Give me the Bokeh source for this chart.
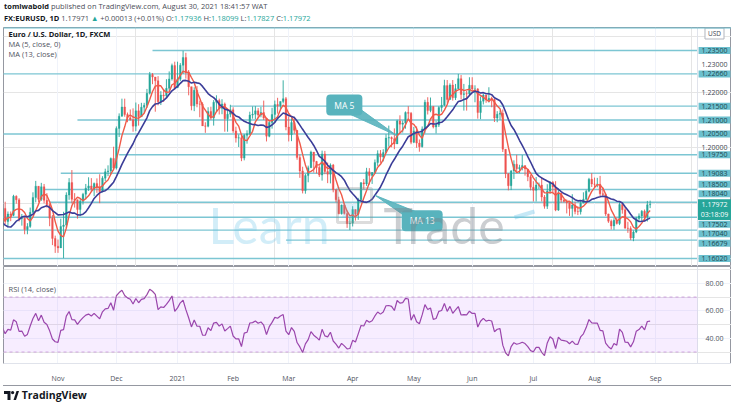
import numpy as np
import pandas as pd
from bokeh.plotting import figure
from bokeh.models import Range1d, Span, BoxAnnotation, Div, FixedTicker, Grid, ColumnDataSource
from bokeh.layouts import column
from bokeh.core.properties import value
from bokeh.embed import file_html
from bokeh.resources import INLINE

FONT = "Open Sans"

# ---------------- data: FX:EURUSD daily (FXCM) ----------------
first_day = "2020-10-01"
last_day = "2021-08-30"
no_bar_days = ["2020-12-25", "2021-01-01"]

# September 2020 closes: only used to warm up the MA / RSI
warmup_close = [1.1911, 1.1855, 1.1850, 1.1837, 1.1817, 1.1780, 1.1800, 1.1813, 1.1845, 1.1864, 1.1846,
                1.1815, 1.1850, 1.1838, 1.1771, 1.1706, 1.1659, 1.1670, 1.1631, 1.1665, 1.1745, 1.1720]

close_oct = [1.1747, 1.1716, 1.1782, 1.1735, 1.1762, 1.1757, 1.1826, 1.1813, 1.1745, 1.1747, 1.1706,
             1.1717, 1.1768, 1.1821, 1.1862, 1.1815, 1.1860, 1.1811, 1.1795, 1.1747, 1.1674, 1.1646]
high_oct = [1.1771, 1.1753, 1.1795, 1.1806, 1.1771, 1.1771, 1.1831, 1.1829, 1.1819, 1.1762, 1.1751,
            1.1729, 1.1785, 1.1840, 1.1881, 1.1860, 1.1874, 1.1870, 1.1837, 1.1800, 1.1758, 1.1684]
low_oct = [1.1708, 1.1696, 1.1715, 1.1725, 1.1714, 1.1736, 1.1754, 1.1799, 1.1735, 1.1720, 1.1689,
           1.1689, 1.1712, 1.1765, 1.1804, 1.1804, 1.1809, 1.1800, 1.1785, 1.1718, 1.1650, 1.1622]

close_nov = [1.1640, 1.1717, 1.1722, 1.1830, 1.1875, 1.1815, 1.1813, 1.1778, 1.1808, 1.1833, 1.1855,
             1.1863, 1.1852, 1.1872, 1.1857, 1.1842, 1.1891, 1.1914, 1.1917, 1.1962, 1.1927]
high_nov = [1.1670, 1.1745, 1.1770, 1.1840, 1.1891, 1.1920, 1.1837, 1.1814, 1.1819, 1.1838, 1.1870,
            1.1894, 1.1891, 1.1875, 1.1890, 1.1905, 1.1898, 1.1925, 1.1937, 1.1965, 1.2004]
low_nov = [1.1622, 1.1640, 1.1603, 1.1711, 1.1813, 1.1800, 1.1785, 1.1745, 1.1754, 1.1796, 1.1815,
           1.1845, 1.1841, 1.1826, 1.1838, 1.1801, 1.1840, 1.1880, 1.1898, 1.1903, 1.1922]

close_dec = [1.2070, 1.2114, 1.2147, 1.2120, 1.2108, 1.2101, 1.2078, 1.2133, 1.2112, 1.2146, 1.2153,
             1.2196, 1.2264, 1.2255, 1.2241, 1.2166, 1.2190, 1.2187, 1.2214, 1.2248, 1.2296, 1.2216]
high_dec = [1.2077, 1.2124, 1.2177, 1.2177, 1.2127, 1.2138, 1.2142, 1.2163, 1.2157, 1.2162, 1.2162,
            1.2212, 1.2273, 1.2269, 1.2255, 1.2258, 1.2204, 1.2212, 1.2247, 1.2275, 1.2303, 1.2310]
low_dec = [1.1922, 1.2039, 1.2112, 1.2112, 1.2092, 1.2098, 1.2058, 1.2060, 1.2080, 1.2111, 1.2126,
           1.2144, 1.2192, 1.2229, 1.2130, 1.2153, 1.2154, 1.2165, 1.2181, 1.2205, 1.2242, 1.2209]

close_jan = [1.2247, 1.2297, 1.2325, 1.2272, 1.2220, 1.2151, 1.2207, 1.2158, 1.2157, 1.2079,
             1.2078, 1.2131, 1.2107, 1.2164, 1.2170, 1.2142, 1.2158, 1.2105, 1.2121, 1.2137]
high_jan = [1.2310, 1.2305, 1.2349, 1.2342, 1.2280, 1.2213, 1.2218, 1.2222, 1.2170, 1.2164,
            1.2092, 1.2146, 1.2148, 1.2172, 1.2189, 1.2177, 1.2175, 1.2163, 1.2138, 1.2155]
low_jan = [1.2227, 1.2240, 1.2266, 1.2249, 1.2189, 1.2135, 1.2132, 1.2146, 1.2110, 1.2079,
           1.2054, 1.2074, 1.2101, 1.2080, 1.2130, 1.2120, 1.2121, 1.2058, 1.2058, 1.2110]

close_feb = [1.2061, 1.2035, 1.2036, 1.1963, 1.2045, 1.2051, 1.2118, 1.2121, 1.2133, 1.2118,
             1.2127, 1.2107, 1.2042, 1.2091, 1.2120, 1.2156, 1.2151, 1.2167, 1.2177, 1.2075]
high_feb = [1.2146, 1.2076, 1.2048, 1.2045, 1.2050, 1.2063, 1.2130, 1.2149, 1.2150, 1.2143,
            1.2147, 1.2170, 1.2108, 1.2100, 1.2144, 1.2170, 1.2180, 1.2167, 1.2243, 1.2183]
low_feb = [1.2054, 1.2019, 1.2003, 1.1952, 1.1955, 1.2015, 1.2046, 1.2105, 1.2103, 1.2108,
           1.2110, 1.2100, 1.2023, 1.2038, 1.2069, 1.2090, 1.2123, 1.2136, 1.2160, 1.2063]

close_mar = [1.2047, 1.2091, 1.2063, 1.1965, 1.1917, 1.1846, 1.1900, 1.1928, 1.1985, 1.1951, 1.1929,
             1.1902, 1.1978, 1.1915, 1.1905, 1.1938, 1.1849, 1.1813, 1.1763, 1.1794, 1.1764, 1.1727, 1.1729]
high_mar = [1.2113, 1.2106, 1.2112, 1.2064, 1.1976, 1.1932, 1.1906, 1.1936, 1.1990, 1.1985, 1.1953,
            1.1937, 1.1990, 1.1989, 1.1947, 1.1944, 1.1942, 1.1852, 1.1824, 1.1796, 1.1800, 1.1774, 1.1750]
low_mar = [1.2023, 1.2024, 1.2051, 1.1957, 1.1892, 1.1836, 1.1835, 1.1876, 1.1928, 1.1911, 1.1908,
           1.1895, 1.1882, 1.1905, 1.1873, 1.1872, 1.1840, 1.1804, 1.1761, 1.1760, 1.1760, 1.1712, 1.1704]

close_apr = [1.1778, 1.1761, 1.1813, 1.1874, 1.1870, 1.1914, 1.1900, 1.1911, 1.1947, 1.1979, 1.1967,
             1.1983, 1.2035, 1.2037, 1.2033, 1.2014, 1.2097, 1.2085, 1.2089, 1.2127, 1.2124, 1.2020]
high_apr = [1.1790, 1.1778, 1.1820, 1.1877, 1.1888, 1.1928, 1.1927, 1.1913, 1.1958, 1.1991, 1.1992,
            1.1995, 1.2049, 1.2080, 1.2041, 1.2070, 1.2101, 1.2117, 1.2098, 1.2131, 1.2150, 1.2129]
low_apr = [1.1717, 1.1738, 1.1741, 1.1810, 1.1851, 1.1863, 1.1868, 1.1870, 1.1907, 1.1935, 1.1946,
           1.1951, 1.1981, 1.2004, 1.2002, 1.1995, 1.2016, 1.2053, 1.2055, 1.2069, 1.2100, 1.2013]

close_may = [1.2061, 1.2017, 1.2004, 1.2068, 1.2164, 1.2134, 1.2149, 1.2075, 1.2082, 1.2145, 1.2153,
             1.2224, 1.2174, 1.2226, 1.2180, 1.2213, 1.2249, 1.2192, 1.2195, 1.2194, 1.2225]
high_may = [1.2075, 1.2077, 1.2030, 1.2077, 1.2173, 1.2182, 1.2181, 1.2150, 1.2098, 1.2150, 1.2183,
            1.2245, 1.2244, 1.2232, 1.2244, 1.2230, 1.2266, 1.2262, 1.2230, 1.2205, 1.2254]
low_may = [1.2017, 1.2000, 1.1986, 1.2001, 1.2052, 1.2120, 1.2128, 1.2070, 1.2052, 1.2075, 1.2130,
           1.2150, 1.2162, 1.2173, 1.2170, 1.2172, 1.2210, 1.2174, 1.2134, 1.2134, 1.2190]

close_jun = [1.2212, 1.2212, 1.2127, 1.2168, 1.2190, 1.2172, 1.2178, 1.2174, 1.2107, 1.2121, 1.2124,
             1.1995, 1.1907, 1.1864, 1.1917, 1.1941, 1.1925, 1.1929, 1.1936, 1.1924, 1.1896, 1.1858]
high_jun = [1.2254, 1.2225, 1.2215, 1.2185, 1.2196, 1.2180, 1.2218, 1.2184, 1.2177, 1.2132, 1.2134,
            1.2138, 1.1993, 1.1909, 1.1920, 1.1955, 1.1975, 1.1939, 1.1974, 1.1935, 1.1920, 1.1903]
low_jun = [1.2205, 1.2164, 1.2105, 1.2103, 1.2156, 1.2162, 1.2163, 1.2146, 1.2093, 1.2092, 1.2101,
           1.1985, 1.1891, 1.1847, 1.1848, 1.1888, 1.1914, 1.1909, 1.1919, 1.1900, 1.1880, 1.1847]

close_jul = [1.1847, 1.1866, 1.1866, 1.1823, 1.1790, 1.1845, 1.1876, 1.1859, 1.1776, 1.1837, 1.1812,
             1.1807, 1.1802, 1.1782, 1.1794, 1.1771, 1.1770, 1.1801, 1.1815, 1.1844, 1.1887, 1.1870]
high_jul = [1.1880, 1.1895, 1.1875, 1.1895, 1.1830, 1.1869, 1.1880, 1.1880, 1.1880, 1.1849, 1.1839,
            1.1816, 1.1814, 1.1804, 1.1833, 1.1806, 1.1790, 1.1810, 1.1840, 1.1849, 1.1892, 1.1909]
low_jul = [1.1807, 1.1807, 1.1852, 1.1807, 1.1781, 1.1780, 1.1834, 1.1838, 1.1772, 1.1773, 1.1803,
           1.1803, 1.1764, 1.1755, 1.1752, 1.1761, 1.1758, 1.1760, 1.1802, 1.1810, 1.1840, 1.1859]

close_aug = [1.1869, 1.1869, 1.1835, 1.1832, 1.1762, 1.1736, 1.1719, 1.1739, 1.1728, 1.1796, 1.1777,
             1.1711, 1.1710, 1.1676, 1.1697, 1.1746, 1.1755, 1.1772, 1.1752, 1.1795, 1.1797]
high_aug = [1.1893, 1.1892, 1.1899, 1.1857, 1.1835, 1.1763, 1.1742, 1.1747, 1.1749, 1.1804, 1.1804,
            1.1787, 1.1734, 1.1718, 1.1703, 1.1752, 1.1764, 1.1776, 1.1778, 1.1809, 1.1810]
low_aug = [1.1858, 1.1858, 1.1826, 1.1823, 1.1755, 1.1730, 1.1706, 1.1705, 1.1724, 1.1722, 1.1763,
           1.1710, 1.1694, 1.1668, 1.1664, 1.1693, 1.1738, 1.1736, 1.1735, 1.1735, 1.1783]

# horizontal levels drawn on the chart and the day each one starts
levels = [1.23500, 1.22660, 1.21500, 1.21000, 1.20500, 1.19750, 1.19083,
          1.18500, 1.18040, 1.17502, 1.17040, 1.16679, 1.16020]
level_start = ["2020-12-18", "2020-10-01", "2021-01-29", "2020-11-11", "2020-10-01", "2020-12-02", "2020-11-03",
               "2020-10-26", "2020-10-28", "2020-10-01", "2020-10-01", "2021-02-26", "2020-10-01"]
price_ticks = [1.23, 1.22, 1.20]
last_price = 1.17972
countdown = "03:18:09"
rsi_ticks = [80, 60, 40]
rsi_band = (30, 70)

month_starts = ["2020-11-02", "2020-12-01", "2021-01-04", "2021-02-01", "2021-03-01", "2021-04-01",
                "2021-05-03", "2021-06-01", "2021-07-01", "2021-08-02", "2021-09-01"]
month_labels = ["Nov", "Dec", "2021", "Feb", "Mar", "Apr", "May", "Jun", "Jul", "Aug", "Sep"]

# callouts: label, MA period, tip date (on the MA line), box date, box price
callout_text = ["MA 5", "MA 13"]
callout_ma = [5, 13]
callout_tip_date = ["2021-04-23", "2021-04-13"]
callout_box_date = ["2021-03-29", "2021-05-06"]
callout_box_price = [1.2154, 1.1738]

header_author = "tomiwabold"
header_rest = "published on TradingView.com, August 30, 2021 18:41:57 WAT"
header_symbol = "FX:EURUSD, 1D"
header_last = "1.17971"
header_change = "+0.00013 (+0.01%)"
header_ohlc = [("O", "1.17936"), ("H", "1.18099"), ("L", "1.17827"), ("C", "1.17972")]

# ---------------- derived series ----------------
closes = np.array(close_oct + close_nov + close_dec + close_jan + close_feb + close_mar +
                  close_apr + close_may + close_jun + close_jul + close_aug)
highs = np.array(high_oct + high_nov + high_dec + high_jan + high_feb + high_mar +
                 high_apr + high_may + high_jun + high_jul + high_aug)
lows = np.array(low_oct + low_nov + low_dec + low_jan + low_feb + low_mar +
                low_apr + low_may + low_jun + low_jul + low_aug)

all_days = [d.strftime("%Y-%m-%d") for d in pd.bdate_range(first_day, "2021-09-30")
            if d.strftime("%Y-%m-%d") not in no_bar_days]
day_idx = {d: i for i, d in enumerate(all_days)}
n_bars = day_idx[last_day] + 1
assert n_bars == len(closes) == len(highs) == len(lows)
xs = np.arange(n_bars)

opens = np.concatenate([[warmup_close[-1]], closes[:-1]])
full = pd.Series(np.concatenate([warmup_close, closes]))
nw = len(warmup_close)
ma = {5: full.rolling(5).mean().to_numpy()[nw:], 13: full.rolling(13).mean().to_numpy()[nw:]}


def rsi_wilder(c, n=14):
    c = np.asarray(c)
    d = np.diff(c)
    up = np.clip(d, 0, None)
    dn = np.clip(-d, 0, None)
    out = np.full(len(c), np.nan)
    au, ad = up[:n].mean(), dn[:n].mean()
    out[n] = 100 - 100 / (1 + au / ad)
    for i in range(n, len(d)):
        au = (au * (n - 1) + up[i]) / n
        ad = (ad * (n - 1) + dn[i]) / n
        out[i + 1] = 100.0 if ad == 0 else 100 - 100 / (1 + au / ad)
    return out


rsi = rsi_wilder(full.to_numpy())[nw:]

# ---------------- view geometry ----------------
W = 728
H_HEAD = 27
H_PRICE = 239
H_RSI = 119
H_FOOT = 20
AXIS_B = 15
X0, X1 = 2.4, 264.27
Y0, Y1 = 1.1573, 1.2433
R0, R1 = 21.7, 92.2
ppx = W / (X1 - X0)
ppy = H_PRICE / (Y1 - Y0)
AXIS_PX = 34
sep = X1 - AXIS_PX / ppx
label_x = X1 - AXIS_PX / 2 / ppx


def fx(px):           # frame pixels from the left -> bar index
    return X0 + px / ppx


def fy(py):           # price-frame pixels from the top -> price
    return Y1 - py / ppy


UP, DOWN = "#26a69a", "#ef5350"
MA5_C, MA13_C = "#f05a48", "#3b3d98"
LEVEL = "#7cc6d3"
LEVEL_BOX = "#6cc0ce"
LABEL_TXT = "#1d4750"
CALLOUT = "#58b3bd"
BORDER = "#9598a1"
TXT = "#50535e"

xr = Range1d(X0, X1)

p = figure(width=W, height=H_PRICE, x_range=xr, y_range=Range1d(Y0, Y1),
           x_axis_location=None, y_axis_location=None, toolbar_location=None,
           output_backend="svg", min_border=0)
p.outline_line_color = BORDER
p.background_fill_color = "white"
p.border_fill_color = "white"
p.add_layout(Grid(dimension=0, ticker=FixedTicker(ticks=[day_idx[d] for d in month_starts]),
                  grid_line_color="#f0f3fa"))
p.add_layout(Span(location=sep, dimension="height", line_color="#e0e3eb", line_width=1))
p.add_layout(Span(location=Y1, dimension="width", line_color="#6fbfcf", line_width=2))

# level lines
p.segment(x0=[day_idx[d] for d in level_start], y0=levels, x1=sep, y1=levels,
          line_color=LEVEL, line_width=1.4)

# candles
up = closes >= opens
body_top = np.maximum(opens, closes)
body_bot = np.minimum(opens, closes)
src = ColumnDataSource(dict(x=xs, top=body_top, bottom=body_bot,
                            hi=np.maximum(highs, body_top), lo=np.minimum(lows, body_bot),
                            color=np.where(up, UP, DOWN)))
p.segment(x0="x", y0="lo", x1="x", y1="hi", line_color="color", line_width=0.9, source=src)
p.vbar(x="x", width=0.62, top="top", bottom="bottom", fill_color="color", line_color="color",
       line_width=0.3, source=src)

# moving averages
p.line(xs, ma[5], line_color=MA5_C, line_width=1.4)
p.line(xs, ma[13], line_color=MA13_C, line_width=1.6)

# callouts
for txt, per, tdate, bdate, bprice in zip(callout_text, callout_ma, callout_tip_date,
                                         callout_box_date, callout_box_price):
    tx = day_idx[tdate]
    ty = ma[per][tx]
    bx = day_idx[bdate]
    by = bprice
    dxp, dyp = (tx - bx) * ppx, (ty - by) * ppy
    L = np.hypot(dxp, dyp)
    nxp, nyp = -dyp / L * 6, dxp / L * 6
    p.patch([bx + nxp / ppx, bx - nxp / ppx, tx], [by + nyp / ppy, by - nyp / ppy, ty],
            fill_color=CALLOUT, line_color=CALLOUT, fill_alpha=0.9, line_alpha=0.9)
    p.text(x=[bx], y=[by], text=[txt], text_align="center", text_baseline="middle",
           text_font=value(FONT), text_font_size="8.5px", text_color="white",
           background_fill_color=CALLOUT, border_radius=4, padding=(8, 5))

# legend texts
p.text(x=[fx(5)], y=[fy(6)], text=["Euro / U.S. Dollar, 1D, FXCM"], text_baseline="middle",
       text_font=value(FONT), text_font_size="7.5px", text_font_style="bold", text_color="#131722")
p.text(x=[fx(5), fx(5)], y=[fy(16), fy(26)], text=["MA (5, close, 0)", "MA (13, close)"],
       text_baseline="middle", text_font=value(FONT), text_font_size="7.5px", text_color=TXT)


# price-scale labels with simple overlap avoidance around the last-price tag
def to_py(v):
    return (Y1 - v) * ppy


cur_py = to_py(last_price)
lab_h = 9
placed = {}
limit = cur_py - 5.5
for lv in sorted([l for l in levels if l >= last_price]):
    c = min(to_py(lv), limit - lab_h / 2 - 0.5)
    placed[lv] = c
    limit = c - lab_h / 2
limit = cur_py + 15
for lv in sorted([l for l in levels if l < last_price], reverse=True):
    c = max(to_py(lv), limit + lab_h / 2 + 0.5)
    placed[lv] = c
    limit = c + lab_h / 2

p.text(x=[label_x] * len(price_ticks), y=price_ticks, text=["%.5f" % t for t in price_ticks],
       text_align="center", text_baseline="middle", text_font=value(FONT), text_font_size="7px",
       text_color="#434651")
p.text(x=[label_x] * len(levels), y=[fy(placed[l]) for l in levels], text=["%.5f" % l for l in levels],
       text_align="center", text_baseline="middle", text_font=value(FONT), text_font_size="7px",
       text_color=LABEL_TXT, background_fill_color=LEVEL_BOX, padding=(3, 1))
p.text(x=[label_x], y=[last_price], text=["%.5f\n%s" % (last_price, countdown)],
       text_align="center", text_baseline="top", y_offset=-5, text_font=value(FONT),
       text_font_size="7px", text_line_height=1.1, text_color="white",
       background_fill_color=UP, padding=(3, 1))
p.text(x=[label_x], y=[fy(6)], text=["USD"], text_align="center", text_baseline="middle",
       text_font=value(FONT), text_font_size="6.5px", text_color="#434651",
       background_fill_color="white", border_line_color="#b2b5be", padding=(3, 1))

# watermark
p.text(x=[fx(205)], y=[fy(197)], text=["Learn"], text_baseline="alphabetic",
       text_font=value("Lato"), text_font_size="50px", text_color="#5cbde6", text_alpha=0.28)
p.rect(x=[fx(351)], y=[fy(178)], width=34, height=34, width_units="screen", height_units="screen",
       fill_color=None, line_color="#8a8a8a", line_alpha=0.3, line_width=3)
p.rect(x=[fx(346)], y=[fy(183)], width=14, height=14, width_units="screen", height_units="screen",
       fill_color="#5cbde6", fill_alpha=0.2, line_color=None)
p.text(x=[fx(380)], y=[fy(197)], text=["Trade"], text_baseline="alphabetic",
       text_font=value("Lato"), text_font_size="50px", text_color="#7a7f87", text_alpha=0.38)
p.segment(x0=[fx(511)], y0=[fy(190)], x1=[fx(531)], y1=[fy(184)], line_color="#5cbde6",
          line_alpha=0.35, line_width=4)

# ---------------- RSI pane ----------------
r = figure(width=W, height=H_RSI, x_range=xr, y_range=Range1d(R0, R1),
           x_axis_location="below", y_axis_location=None, toolbar_location=None,
           output_backend="svg", min_border=0, min_border_bottom=AXIS_B)
r.outline_line_color = BORDER
r.background_fill_color = "white"
r.border_fill_color = "white"
tick_idx = [day_idx[d] for d in month_starts]
r.xaxis.ticker = FixedTicker(ticks=tick_idx)
r.xaxis.major_label_overrides = {t: lab for t, lab in zip(tick_idx, month_labels)}
r.xaxis.major_tick_line_color = None
r.xaxis.minor_tick_line_color = None
r.xaxis.axis_line_color = "#e0e3eb"
r.xaxis.major_label_standoff = 4
r.xaxis.major_label_text_font = FONT
r.xaxis.major_label_text_font_size = "7px"
r.xaxis.major_label_text_color = TXT
r.xgrid.grid_line_color = "#f0f3fa"
r.add_layout(Grid(dimension=1, ticker=FixedTicker(ticks=rsi_ticks), grid_line_color="#f0f3fa"))
r.add_layout(Span(location=sep, dimension="height", line_color="#e0e3eb", line_width=1))
r.add_layout(BoxAnnotation(bottom=rsi_band[0], top=rsi_band[1], right=sep,
                           fill_color="#9915ff", fill_alpha=0.08, line_color=None))
r.segment(x0=X0, y0=list(rsi_band), x1=sep, y1=list(rsi_band), line_color="#cfa9dc",
          line_dash="3 3", line_width=1)
r.line(xs, rsi, line_color="#9b4aa6", line_width=1.2)
r.text(x=[label_x] * len(rsi_ticks), y=rsi_ticks, text=["%.2f" % t for t in rsi_ticks],
       text_align="center", text_baseline="middle", text_font=value(FONT), text_font_size="7px",
       text_color=TXT)
rpp = (H_RSI - AXIS_B) / (R1 - R0)
r.text(x=[fx(5)], y=[R1 - 24 / rpp], text=["RSI (14, close)"], text_baseline="middle",
       text_font=value(FONT), text_font_size="7.5px", text_color=TXT)

# ---------------- header / footer ----------------
teal = "#26a69a"
ohlc_html = " ".join('%s:<span style="color:%s">%s</span>' % (k, teal, v) for k, v in header_ohlc)
header = Div(width=W, height=H_HEAD, margin=0, styles={"overflow": "visible"}, text=(
    '<div style="position:relative;top:0px;left:1px;height:%dpx;overflow:visible;'
    'font-family:\'Open Sans\';font-size:7.5px;line-height:12px;color:#4a4d57;white-space:nowrap">'
    '<b style="color:#131722">%s</b> %s<br>'
    '<b style="color:#131722">%s</b> %s <span style="color:%s">&#9650;</span> %s %s</div>'
    % (H_HEAD - 2, header_author, header_rest, header_symbol, header_last, teal,
       header_change, ohlc_html)))

logo_svg = ('<svg width="15" height="9" viewBox="0 0 15 9" style="vertical-align:-1px">'
            '<path d="M0 0h6.5v9H3.5V3H0z" fill="#131722"/><circle cx="8.6" cy="1.6" r="1.6" fill="#131722"/>'
            '<path d="M9.5 9l3-9h2.5l-3 9z" fill="#131722"/></svg>')
footer = Div(width=W, height=H_FOOT, margin=0, styles={"overflow": "visible"}, text=(
    '<div style="height:%dpx;overflow:visible;border-top:1px solid %s;width:%dpx;box-sizing:border-box;'
    'font-family:\'Open Sans\';font-size:10.5px;font-weight:700;color:#131722;line-height:11px;'
    'padding-top:4px;padding-left:1px;white-space:nowrap">%s TradingView</div>'
    % (H_FOOT, BORDER, W, logo_svg)))

layout = column(header, p, r, footer, spacing=0, styles={"margin-left": "3px"})

open("out.html", "w").write(file_html(layout, INLINE))
